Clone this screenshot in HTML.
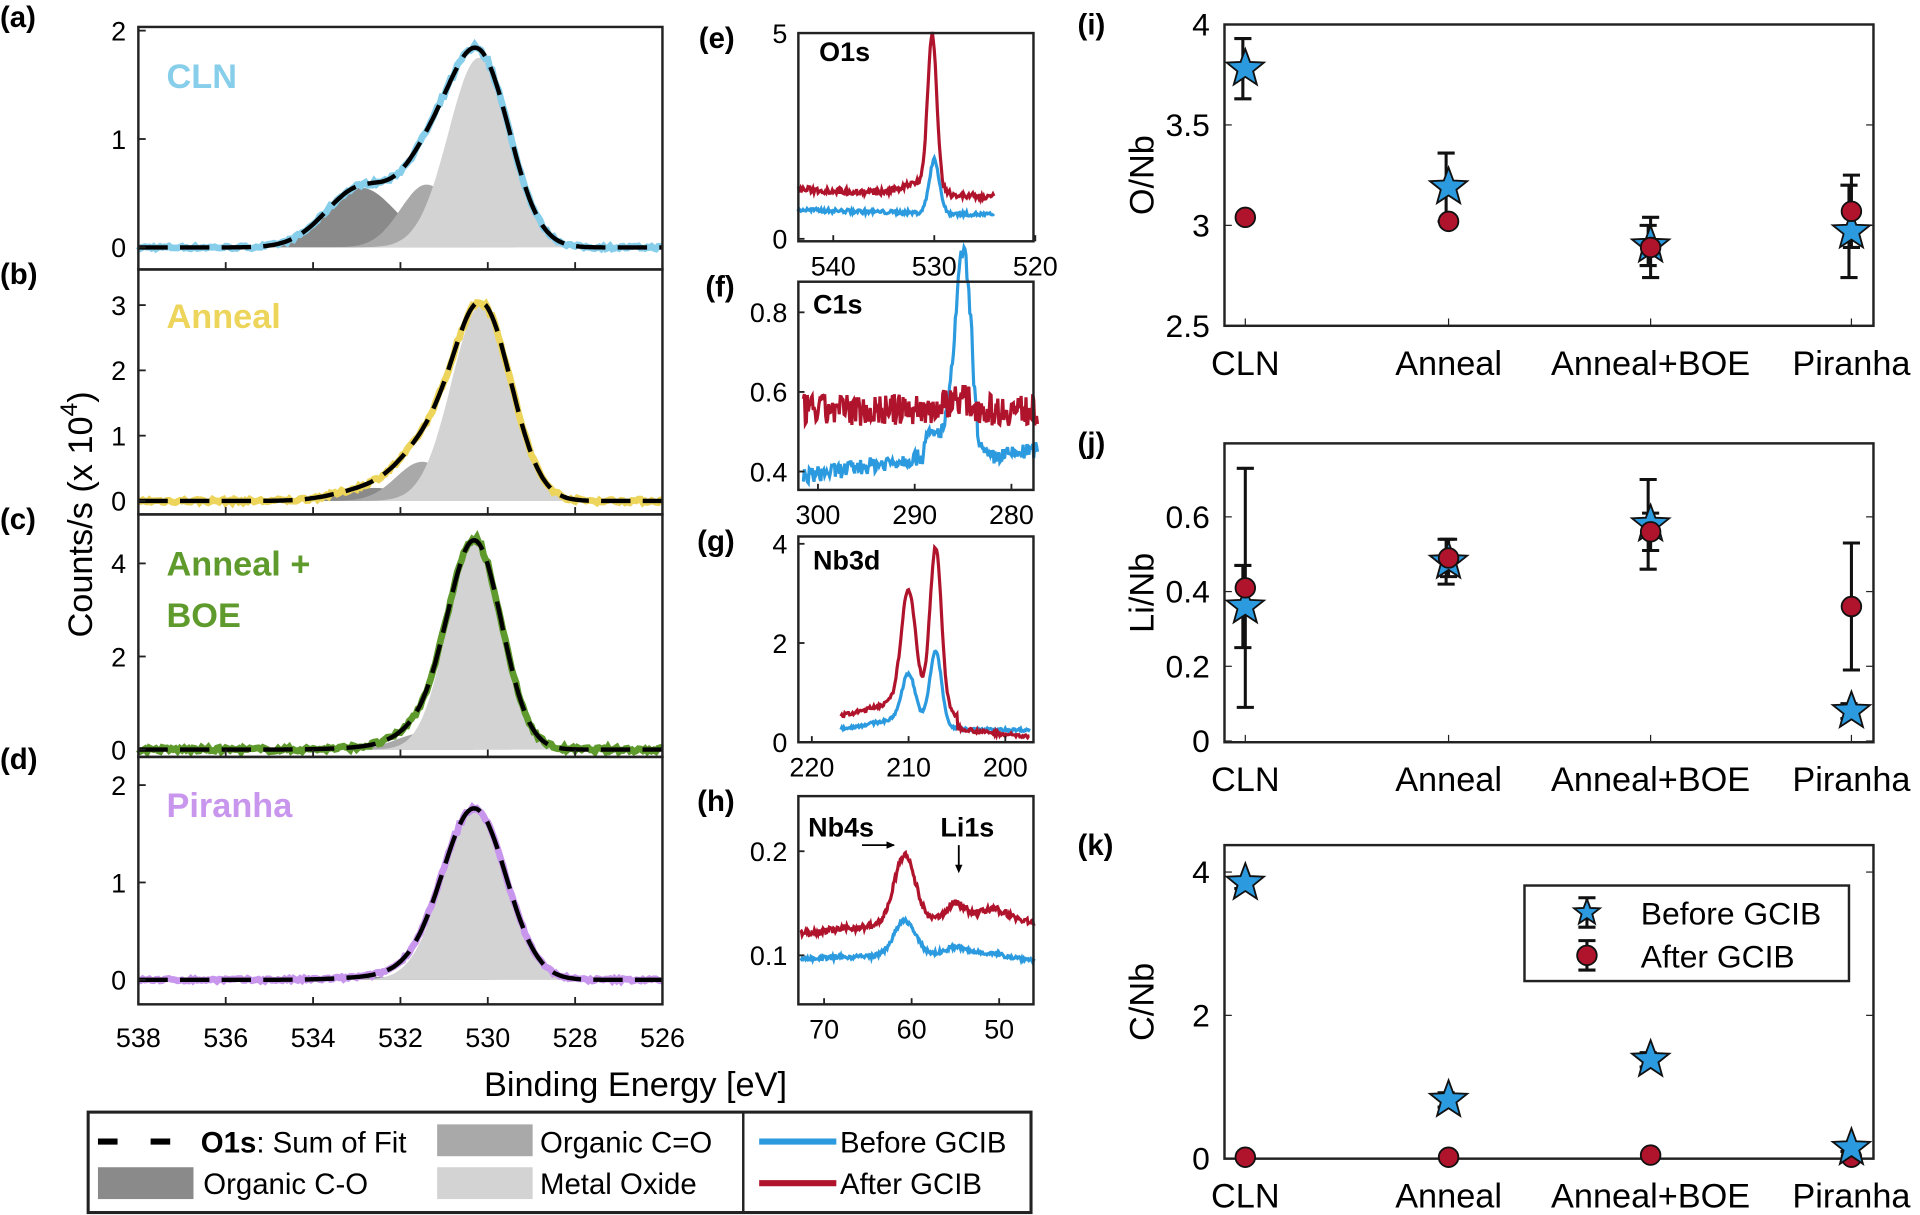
<!DOCTYPE html>
<html><head><meta charset="utf-8">
<style>html,body{margin:0;padding:0;background:#fff;overflow:hidden}svg{display:block}
text{font-family:"Liberation Sans",Arial,sans-serif;fill:#000}</style></head>
<body>
<svg id="s" width="1920" height="1215" viewBox="0 0 1568 992" preserveAspectRatio="none" xmlns="http://www.w3.org/2000/svg"></svg>
<script>
const S=document.getElementById('s');let H='';
let seed=7;function rnd(){seed=(seed*16807)%2147483647;return seed/2147483647-0.5;}
function g(x,c,s,h){return h*Math.exp(-0.5*((x-c)/s)**2);}
function line(pts,col,w,extra){return `<polyline fill="none" stroke="${col}" stroke-width="${w}" ${extra||''} points="${pts.map(p=>p[0].toFixed(1)+','+p[1].toFixed(1)).join(' ')}"/>`;}
function area(pts,base,col){let d='M'+pts[0][0]+','+base;pts.forEach(p=>d+='L'+p[0].toFixed(1)+','+p[1].toFixed(1));d+='L'+pts[pts.length-1][0]+','+base+'Z';return `<path d="${d}" fill="${col}"/>`;}
function T(x,y,t,sz,anc,extra){H+=`<text x="${x}" y="${y}" font-size="${sz}" text-anchor="${anc||'start'}" ${extra||''}>${t}</text>`;}
const X=E=>113+(538-E)*35.67;
const P=[
 {y0:22,y1:220,z:202,u:88.5,col:'#87ceeb',ticks:[0,1,2],c:[[532.9,0.8,0.55],[531.4,0.6,0.58],[530.2,0.7,1.75]],lab:['CLN'],ly:62,n:0.015},
 {y0:220,y1:420,z:409,u:53.3,col:'#ecd55a',ticks:[0,1,2,3],c:[[532.6,0.8,0.2],[531.5,0.6,0.6],[530.15,0.68,3.0]],lab:['Anneal'],ly:258,n:0.03},
 {y0:420,y1:618,z:612,u:38,col:'#5f9a2c',ticks:[0,2,4],c:[[532.5,0.8,0.05],[531.5,0.6,0.35],[530.3,0.62,4.45]],lab:['Anneal +','BOE'],ly:460,n:0.05},
 {y0:618,y1:820,z:800,u:79.5,col:'#c996ee',ticks:[0,1,2],c:[[532.5,0.8,0.03],[531.5,0.6,0.08],[530.3,0.72,1.75]],lab:['Piranha'],ly:657,n:0.015}];
const fills=['#8a8a8a','#a9a9a9','#d3d3d3'];
P.forEach((p,i)=>{
 const Y=v=>p.z-v*p.u;let sum=[],comp=[[],[],[]],dat=[];
 for(let E=538;E>=526;E-=0.05){let s=0;p.c.forEach((c,k)=>{let v=g(E,c[0],c[1],c[2]);s+=v;comp[k].push([X(E),Y(v)]);});sum.push([X(E),Y(s)]);dat.push([X(E),Y(s*(1+0.01*rnd()*2)+p.n*rnd()*2)]);}
 comp.forEach((c,k)=>H+=area(c,p.z,fills[k]));
 H+=line(dat,p.col,5.5);
 H+=line(sum,'#000',3.6,'stroke-dasharray="24,10"');
 H+=`<rect x="113" y="${p.y0}" width="428" height="${p.y1-p.y0}" fill="none" stroke="#222" stroke-width="2"/>`;
 p.ticks.forEach(t=>{T(103,Y(t)+8,t,22,'end');H+=`<line x1="113" x2="119" y1="${Y(t)}" y2="${Y(t)}" stroke="#222" stroke-width="1.5"/>`;});
 for(let E=538;E>=526;E-=2)H+=`<line x1="${X(E)}" x2="${X(E)}" y1="${p.y1}" y2="${p.y1-6}" stroke="#222" stroke-width="1.5"/>`;
 p.lab.forEach((l,j)=>T(136,p.ly+j*42+10,l,28,'start',`font-weight="bold" style="fill:${p.col}"`));
 T(0,[22,232,432,628][i],'('+'abcd'[i]+')',24,'start','font-weight="bold"');
});
for(let E=538;E>=526;E-=2)T(X(E),855,E,22,'middle');
T(519,895,'Binding Energy [eV]',28,'middle');
T(75,420,'Counts/s (x 10<tspan dy="-12" font-size="20">4</tspan><tspan dy="12">)</tspan>',28,'middle','transform="rotate(-90 75 420)"');
const BL='#2b9ade',RD='#b0142c';
function small(o){
 const Xs=E=>o.xa+(o.e0-E)*o.xs, Ys=v=>o.z-(v-o.v0)*o.u;
 let b=[],r=[];
 for(let E=o.lo;E>=o.hi;E-=o.st){b.push([Xs(E),Ys(o.fb(E)+o.nb*rnd()*2)]);r.push([Xs(E),Ys(o.fr(E)+o.nr*rnd()*2)]);}
 H+=line(b,BL,2.6)+line(r,RD,2.6);
 H+=`<rect x="652" y="${o.y0}" width="192" height="${o.y1-o.y0}" fill="none" stroke="#222" stroke-width="2"/>`;
 o.yt.forEach(t=>{T(643,Ys(t)+8,t,22,'end');H+=`<line x1="652" x2="657" y1="${Ys(t)}" y2="${Ys(t)}" stroke="#222" stroke-width="1.5"/>`;});
 o.xt.forEach(t=>{T(Xs(t),o.y1+28,t,22,'middle');H+=`<line x1="${Xs(t)}" x2="${Xs(t)}" y1="${o.y1}" y2="${o.y1-5}" stroke="#222" stroke-width="1.5"/>`;});
 T(600,o.y0+12,o.lb,24,'end','font-weight="bold" dx="0"');
}
small({y0:27,y1:197,xa:763,e0:530,xs:8.25,z:195,v0:0,u:33.6,lo:543.5,hi:524,st:0.1,nb:0.05,nr:0.08,
 fb:E=>0.7-0.006*(543-E)+g(E,530,0.5,1.3),fr:E=>1.2-0.01*(543-E)+g(E,530.2,0.45,3.7)+g(E,531.5,1.5,0.3),yt:[0,5],xt:[540,530,520],lb:'(e)'});
small({y0:230,y1:400,xa:668,e0:300,xs:7.9,z:385,v0:0.4,u:325,lo:301.5,hi:277.2,st:0.1,nb:0.02,nr:0.04,
 fb:E=>0.39+0.004*(301-E)+g(E,285,0.8,0.45)+(E<289&&E>284?0.05:0)-(E<283.5?0.03:0),fr:E=>0.555+g(E,285.5,1.2,0.03),yt:[0.4,0.6,0.8],xt:[300,290,280],lb:'(f)'});
small({y0:438,y1:606,xa:663,e0:220,xs:7.9,z:606,v0:0,u:40.5,lo:217,hi:197.5,st:0.1,nb:0.03,nr:0.04,
 fb:E=>0.25+g(E,210,0.7,0.95)+g(E,207.2,0.6,1.5)+g(E,211,3,0.2),fr:E=>0.5+g(E,210,0.75,2.3)+g(E,207.2,0.6,3.3)+g(E,211,3,0.3)-0.02*(217-E)*(E<205?1:0),yt:[0,2,4],xt:[220,210,200],lb:'(g)'});
small({y0:650,y1:820,xa:673,e0:70,xs:7.15,z:780,v0:0.1,u:850,lo:72.7,hi:46,st:0.1,nb:0.002,nr:0.003,
 fb:E=>0.097+0.0003*(72-E)+g(E,60.8,1.2,0.033)+g(E,55,1,0.006)-0.0008*Math.max(0,52-E)*2,fr:E=>0.122+0.0008*(72-E)+g(E,60.8,1.2,0.065)+g(E,55,1,0.015)+g(E,51,1.5,0.005)-0.001*Math.max(0,50-E)*3,yt:[0.1,0.2],xt:[70,60,50],lb:'(h)'});
T(669,50,'O1s',22,'start','font-weight="bold"');T(664,256,'C1s',22,'start','font-weight="bold"');
T(664,465,'Nb3d',22,'start','font-weight="bold"');T(660,683,'Nb4s',22,'start','font-weight="bold"');T(768,683,'Li1s',22,'start','font-weight="bold"');
H+=`<line x1="704" y1="690" x2="730" y2="690" stroke="#000" stroke-width="1.5"/><path d="M731,690 l-7,-3 v6z"/><line x1="783" y1="690" x2="783" y2="710" stroke="#000" stroke-width="1.5"/><path d="M783,713 l-3,-7 h6z"/>`;
const cx=[1017,1183,1348,1512];
function star(x,y,r){let d='';for(let i=0;i<10;i++){let a=-Math.PI/2+i*Math.PI/5,rr=i%2?r*0.42:r;d+=(i?'L':'M')+(x+rr*Math.cos(a)).toFixed(1)+','+(y+rr*Math.sin(a)).toFixed(1);}return `<path d="${d}Z" fill="${BL}" stroke="#111" stroke-width="1.5"/>`;}
function eb(x,y1,y2){return `<line x1="${x}" x2="${x}" y1="${y1}" y2="${y2}" stroke="#111" stroke-width="2.5"/><line x1="${x-7}" x2="${x+7}" y1="${y1}" y2="${y1}" stroke="#111" stroke-width="2.5"/><line x1="${x-7}" x2="${x+7}" y1="${y2}" y2="${y2}" stroke="#111" stroke-width="2.5"/>`;}
function dot(x,y){return `<circle cx="${x}" cy="${y}" r="8" fill="${RD}" stroke="#111" stroke-width="1.5"/>`;}
function rp(o){
 const Y=v=>o.z-(v-o.v0)*o.u;
 H+=`<rect x="1000" y="${o.y0}" width="530" height="${o.y1-o.y0}" fill="none" stroke="#222" stroke-width="2"/>`;
 o.yt.forEach(t=>{T(988,Y(t)+9,t,26,'end');H+=`<line x1="1000" x2="1006" y1="${Y(t)}" y2="${Y(t)}" stroke="#222"/><line x1="1530" x2="1524" y1="${Y(t)}" y2="${Y(t)}" stroke="#222"/>`;});
 ['CLN','Anneal','Anneal+BOE','Piranha'].forEach((l,i)=>{T(cx[i],o.y1+40,l,28,'middle');H+=`<line x1="${cx[i]}" x2="${cx[i]}" y1="${o.y1}" y2="${o.y1-6}" stroke="#222"/>`;});
 T(942,(o.y0+o.y1)/2,o.lab,28,'middle',`transform="rotate(-90 942 ${(o.y0+o.y1)/2})"`);
 T(880,o.y0+8,o.tag,24,'start','font-weight="bold"');
 o.b.forEach((d,i)=>{H+=eb(cx[i]-2,Y(d[0]+d[1]),Y(d[0]-d[1]));});
 o.r.forEach((d,i)=>{H+=eb(cx[i],Y(d[0]+d[1]),Y(d[0]-d[1]));});
 o.r.forEach((d,i)=>{if(o.rfirst)H+=dot(cx[i],Y(d[0]));});
 o.b.forEach((d,i)=>{H+=star(cx[i],Y(d[0]),16);});
 o.r.forEach((d,i)=>{if(!o.rfirst)H+=dot(cx[i],Y(d[0]));});
}
rp({y0:20,y1:266,z:266,v0:2.5,u:164,yt:[2.5,3,3.5,4],lab:'O/Nb',tag:'(i)',rfirst:false,
 b:[[3.78,0.15],[3.19,0.17],[2.9,0.1],[2.97,0.23]],r:[[3.04,0.01],[3.02,0.02],[2.89,0.15],[3.07,0.18]]});
rp({y0:362,y1:606,z:605,v0:0,u:305,yt:[0,0.2,0.4,0.6],lab:'Li/Nb',tag:'(j)',rfirst:false,
 b:[[0.36,0.11],[0.48,0.06],[0.58,0.12],[0.08,0.02]],r:[[0.41,0.32],[0.49,0.05],[0.56,0.05],[0.36,0.17]]});
rp({y0:690,y1:946,z:946,v0:0,u:58.5,yt:[0,2,4],lab:'C/Nb',tag:'(k)',rfirst:true,
 b:[[3.85,0.08],[0.82,0.1],[1.38,0.1],[0.15,0.05]],r:[[0.02,0.01],[0.02,0.01],[0.05,0.01],[0.02,0.01]]});
H+=`<rect x="1245" y="723" width="265" height="78" fill="#fff" stroke="#222" stroke-width="2"/>`;
H+=eb(1296,733,757)+star(1296,745,11)+eb(1296,768,792)+dot(1296,780);
T(1340,755,'Before GCIB',26);T(1340,790,'After GCIB',26);
H+=`<rect x="72" y="908" width="770" height="82" fill="#fff" stroke="#222" stroke-width="2.5"/><line x1="607" x2="607" y1="908" y2="990" stroke="#222" stroke-width="2"/>`;
H+=`<line x1="80" x2="160" y1="932" y2="932" stroke="#000" stroke-width="5" stroke-dasharray="16,27"/>`;
T(164,941,'<tspan font-weight="bold">O1s</tspan>: Sum of Fit',24);
H+=`<rect x="357" y="918" width="78" height="26" fill="#a9a9a9"/><rect x="80" y="953" width="78" height="26" fill="#8a8a8a"/><rect x="357" y="953" width="78" height="26" fill="#d3d3d3"/>`;
T(441,941,'Organic C=O',24);T(166,975,'Organic C-O',24);T(441,975,'Metal Oxide',24);
H+=`<line x1="620" x2="683" y1="932" y2="932" stroke="${BL}" stroke-width="5"/><line x1="620" x2="683" y1="966" y2="966" stroke="${RD}" stroke-width="5"/>`;
T(686,941,'Before GCIB',24);T(686,975,'After GCIB',24);
S.innerHTML=H;
</script>
</body></html>
